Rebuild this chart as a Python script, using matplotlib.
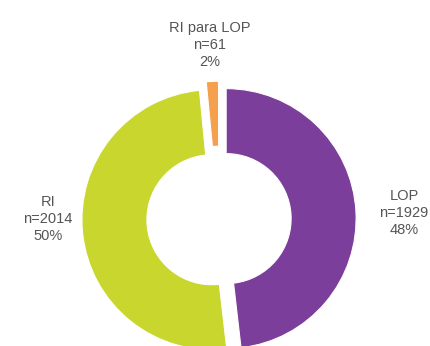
import matplotlib
matplotlib.use("Agg")
from matplotlib import pyplot as plt

labels = ["LOP", "RI", "RI para LOP"]
counts = [1929, 2014, 61]
pcts = ["48%", "50%", "2%"]
colors = ["#7b3f9b", "#c8d62e", "#f5a04c"]

plt.rcParams['font.family'] = ['Liberation Sans', 'DejaVu Sans']

fig = plt.figure(figsize=(4.31, 3.46), dpi=100)
ax = fig.add_axes([0, 0, 1, 1])

ax.pie(counts, colors=colors, startangle=90, counterclock=False,
       explode=[0.055, 0.055, 0.06],
       wedgeprops=dict(width=0.5, edgecolor='white', linewidth=0.8))

ax.set_aspect('auto')
ax.set_xlim(-1.685, 1.631)
ax.set_ylim(-0.977, 1.685)
ax.axis('off')

# label positions in data units
label_pos = {"LOP": (1.423, 0.046), "RI": (-1.315, 0.0), "RI para LOP": (-0.069, 1.338)}
for name, n, p in zip(labels, counts, pcts):
    x, y = label_pos[name]
    ax.text(x, y, f"{name}\nn={n}\n{p}", ha='center', va='center',
            fontsize=10.5, color='#555555', linespacing=1.25)

fig.savefig("out.png", dpi=100)
